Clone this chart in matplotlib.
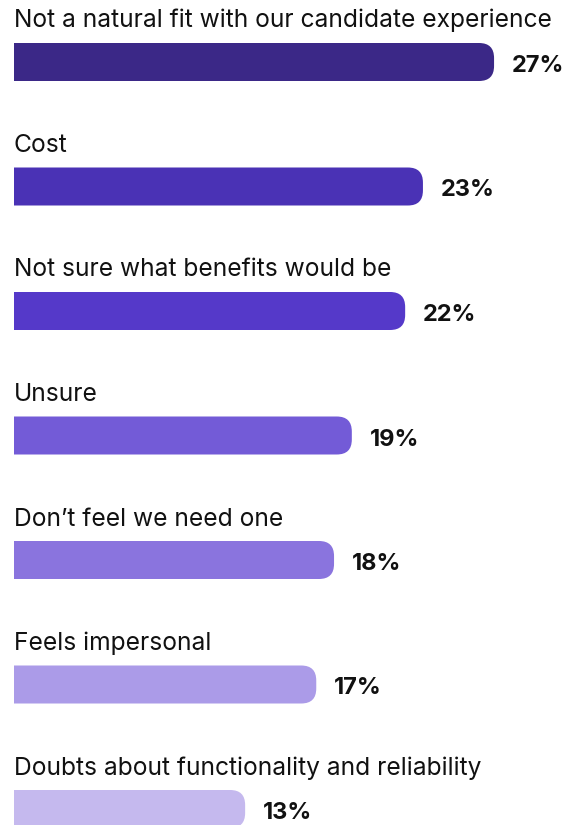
import matplotlib
matplotlib.use("Agg")
import matplotlib.pyplot as plt
from matplotlib.patches import FancyBboxPatch

categories = [
    "Not a natural fit with our candidate experience",
    "Cost",
    "Not sure what benefits would be",
    "Unsure",
    "Don\u2019t feel we need one",
    "Feels impersonal",
    "Doubts about functionality and reliability",
]
values = [27, 23, 22, 19, 18, 17, 13]
colors = ["#3b2887", "#4a32b5", "#5539c9", "#735bd7", "#8a74de", "#ab9be8", "#c5b9ee"]

W, H = 568, 825
left_px = 14
px_per_pct = 17.78
row_px = 124.5
first_center_px = 62
bar_h_px = 38
radius_px = 15

plt.rcParams["font.family"] = ["Inter", "DejaVu Sans"]

fig = plt.figure(figsize=(W / 100, H / 100), dpi=100)
ax = fig.add_axes([left_px / W, 0, 1 - left_px / W, 1])
ax.set_xlim(0, (W - left_px) / px_per_pct)
ax.set_ylim((H - first_center_px) / row_px, -first_center_px / row_px)
ax.axis("off")

bar_h = bar_h_px / row_px
rx = radius_px / px_per_pct
ry = radius_px / row_px

for i, (cat, val, col) in enumerate(zip(categories, values, colors)):
    # start left of the axes so the clipped left end is square
    box = FancyBboxPatch((-2 * rx, i - bar_h / 2), val + 2 * rx, bar_h,
                         boxstyle=f"round,pad=0,rounding_size={rx}",
                         mutation_aspect=ry / rx, fc=col, ec="none", lw=0)
    ax.add_patch(box)
    ax.text(0, i - 34.5 / row_px, cat, fontsize=17.7, color="#111111",
            ha="left", va="baseline")
    ax.text(val + 18 / px_per_pct, i + 10 / row_px, f"{val}%", fontsize=17,
            fontweight="bold", color="#111111", ha="left", va="baseline")

fig.savefig("out.png", dpi=100)
